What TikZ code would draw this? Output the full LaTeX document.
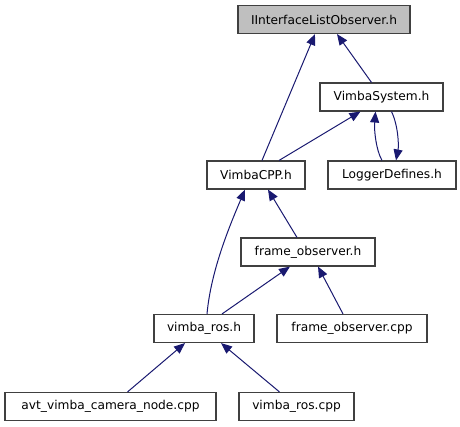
\documentclass[tikz,border=0pt]{standalone}
\usepackage{fontspec}
\setsansfont{DejaVu Sans}
\usetikzlibrary{arrows.meta}
\definecolor{edgeblue}{HTML}{191970}
\definecolor{boxgrey}{HTML}{BFBFBF}

\begin{document}
\begin{tikzpicture}[
    x=1pt, y=-1pt,
    >={Triangle[length=11pt, width=9pt]},
    file/.style={draw=black!75, line width=1.1pt, minimum height=28pt,
                 inner sep=0pt, font=\fontsize{12.2}{14}\sffamily},
    dep/.style={<-, edgeblue, line width=1pt}
  ]
  \useasboundingbox (0,0) rectangle (460,427);

  \node[file, fill=boxgrey, minimum width=172pt] (iface) at (324,19.5) {IInterfaceListObserver.h};
  \node[file, minimum width=123pt] (vsys) at (381.5,97) {VimbaSystem.h};
  \node[file, minimum width=128pt] (logger) at (392,175) {LoggerDefines.h};
  \node[file, minimum width=98pt] (vcpp) at (256,175) {VimbaCPP.h};
  \node[file, minimum width=134pt] (fobsh) at (308,252) {frame\_observer.h};
  \node[file, minimum width=100pt] (vrosh) at (204,328.5) {vimba\_ros.h};
  \node[file, minimum width=150pt] (fobscpp) at (352,328.5) {frame\_observer.cpp};
  \node[file, minimum width=211pt] (avt) at (110.5,406.5) {avt\_vimba\_camera\_node.cpp};
  \node[file, minimum width=115pt] (vroscpp) at (296.5,406.5) {vimba\_ros.cpp};

  \draw[dep] ([xshift=-9]iface.south) -- ([xshift=6]vcpp.north);
  \draw[dep] ([xshift=13]iface.south) -- ([xshift=-10]vsys.north);
  \draw[dep] ([xshift=-21]vsys.south) -- ([xshift=23]vcpp.north);
  \draw[dep] ([xshift=-6]vsys.south) .. controls (374,130) and (376,150) .. ([xshift=-10]logger.north);
  \draw[->, edgeblue, line width=1pt] ([xshift=10]vsys.south) .. controls (398,125) and (399,145) .. ([xshift=4]logger.north);
  \draw[dep] ([xshift=-11]vcpp.south) .. controls (230,225) and (211,270) .. ([xshift=3]vrosh.north);
  \draw[dep] ([xshift=12]vcpp.south) -- ([xshift=-11]fobsh.north);
  \draw[dep] ([xshift=-18]fobsh.south) -- ([xshift=18]vrosh.north);
  \draw[dep] ([xshift=10]fobsh.south) -- ([xshift=-9]fobscpp.north);
  \draw[dep] ([xshift=-19]vrosh.south) -- ([xshift=17]avt.north);
  \draw[dep] ([xshift=17]vrosh.south) -- ([xshift=-17]vroscpp.north);
\end{tikzpicture}
\end{document}
